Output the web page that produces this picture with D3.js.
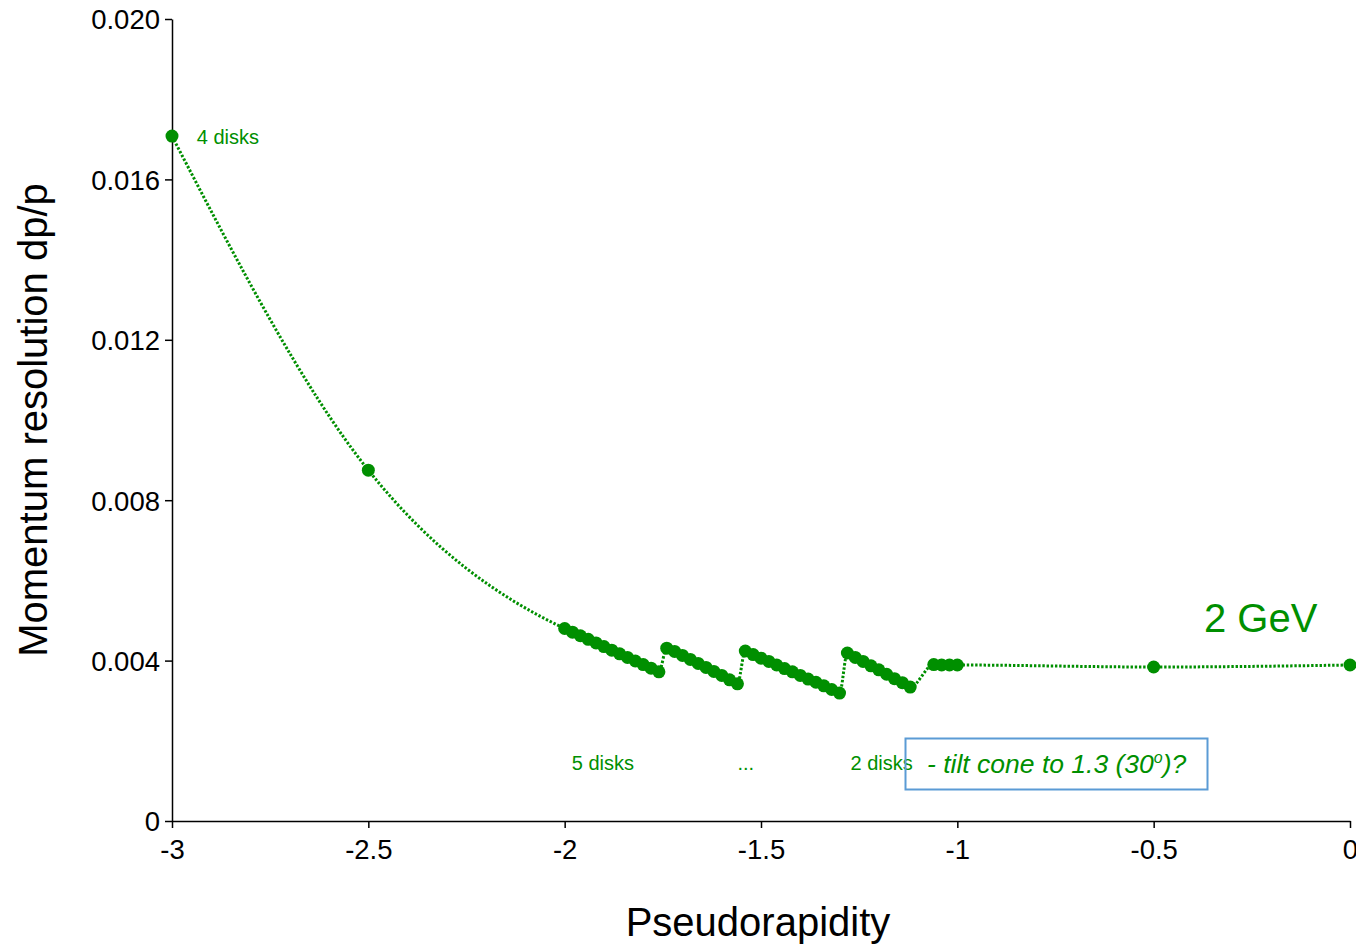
<!DOCTYPE html>
<html>
<head>
<meta charset="utf-8">
<script src="https://cdn.jsdelivr.net/npm/d3@7"></script>
<style>
  html, body { margin: 0; padding: 0; background: #fff; }
  svg { display: block; font-family: "Liberation Sans", Arial, Helvetica, sans-serif; }
</style>
</head>
<body>
<svg id="chart" width="1356" height="945"></svg>
<script>
// Momentum resolution vs pseudorapidity at 2 GeV
const eta = [
  -3.00, -2.50,
  -2.00, -1.98, -1.96, -1.94, -1.92, -1.90, -1.88, -1.86, -1.84, -1.82, -1.80, -1.78, -1.76,
  -1.74, -1.72, -1.70, -1.68, -1.66, -1.64, -1.62, -1.60, -1.58, -1.56,
  -1.54, -1.52, -1.50, -1.48, -1.46, -1.44, -1.42, -1.40, -1.38, -1.36, -1.34, -1.32, -1.30,
  -1.28, -1.26, -1.24, -1.22, -1.20, -1.18, -1.16, -1.14, -1.12,
  -1.06, -1.04, -1.02, -1.00,
  -0.50, 0.00
];
const dpp = [
  0.01708, 0.00875,
  0.00480, 0.00471, 0.00462, 0.00453, 0.00444, 0.00435, 0.00426, 0.00417, 0.00408, 0.00399, 0.00390, 0.00381, 0.00372,
  0.00431, 0.00423, 0.00413, 0.00403, 0.00393, 0.00383, 0.00373, 0.00363, 0.00352, 0.00342,
  0.00424, 0.00415, 0.00406, 0.00398, 0.00389, 0.00380, 0.00372, 0.00363, 0.00354, 0.00346, 0.00337, 0.00328, 0.00319,
  0.00419, 0.00408, 0.00398, 0.00387, 0.00377, 0.00366, 0.00355, 0.00345, 0.00334,
  0.00390, 0.00389, 0.00389, 0.00389,
  0.00384, 0.00389
];
const xTicks = [-3, -2.5, -2, -1.5, -1, -0.5, 0];
const xTickLabels = ["-3", "-2.5", "-2", "-1.5", "-1", "-0.5", "0"];
const yTicks = [0, 0.004, 0.008, 0.012, 0.016, 0.020];
const yTickLabels = ["0", "0.004", "0.008", "0.012", "0.016", "0.020"];
const annotations = [
  { text: "4 disks", x: -2.937, y: 0.01689 },
  { text: "5 disks", x: -1.982, y: 0.00127 },
  { text: "...", x: -1.560, y: 0.00127 },
  { text: "2 disks", x: -1.272, y: 0.00127 }
];

const green = "#008f00";
const svg = d3.select("#chart");
const margin = { left: 172, right: 6, top: 19, bottom: 124 };
const W = 1356, H = 945;

const x = d3.scaleLinear().domain([-3, 0]).range([margin.left, W - margin.right]);
const y = d3.scaleLinear().domain([0, 0.020]).range([H - margin.bottom, margin.top]);

// axes
const xAxis = svg.append("g")
  .attr("transform", `translate(0,${y(0)})`)
  .call(d3.axisBottom(x).tickValues(xTicks).tickSize(7).tickSizeOuter(0).tickPadding(5)
    .tickFormat((d, i) => xTickLabels[i]));
const yAxis = svg.append("g")
  .attr("transform", `translate(${x(-3)},0)`)
  .call(d3.axisLeft(y).tickValues(yTicks).tickSize(7).tickSizeOuter(0).tickPadding(5)
    .tickFormat((d, i) => yTickLabels[i]));

[xAxis, yAxis].forEach(g => {
  g.select(".domain").attr("stroke", "#000").attr("stroke-width", 1.5);
  g.selectAll(".tick line").attr("stroke", "#000").attr("stroke-width", 1.5);
  g.selectAll(".tick text").attr("fill", "#000").style("font-size", "27.5px")
    .style("font-family", '"Liberation Sans", Arial, sans-serif');
});
xAxis.selectAll(".tick text").attr("dy", "0.95em");
yAxis.selectAll(".tick text").attr("dy", "0.36em");

// axis titles
svg.append("text")
  .attr("x", 758).attr("y", 936)
  .attr("text-anchor", "middle")
  .style("font-size", "40px")
  .text("Pseudorapidity");
svg.append("text")
  .attr("transform", "translate(47,420) rotate(-90)")
  .attr("text-anchor", "middle")
  .style("font-size", "40px")
  .text("Momentum resolution dp/p");

// data
const pts = eta.map((e, i) => [e, dpp[i]]);

const line = d3.line()
  .x(d => x(d[0])).y(d => y(d[1]))
  .curve(d3.curveMonotoneX);

svg.append("path")
  .datum(pts)
  .attr("d", line)
  .attr("fill", "none")
  .attr("stroke", green)
  .attr("stroke-width", 3)
  .attr("stroke-dasharray", "2.4,1.8");

svg.append("g").selectAll("circle")
  .data(pts)
  .join("circle")
  .attr("cx", d => x(d[0]))
  .attr("cy", d => y(d[1]))
  .attr("r", 6.5)
  .attr("fill", green);

// labels
svg.append("g").selectAll("text")
  .data(annotations)
  .join("text")
  .attr("x", d => x(d.x))
  .attr("y", d => y(d.y))
  .attr("fill", green)
  .style("font-size", "20px")
  .text(d => d.text);

svg.append("text")
  .attr("x", 1204).attr("y", 632)
  .attr("fill", green)
  .style("font-size", "40px")
  .text("2 GeV");

// note box
svg.append("rect")
  .attr("x", 905.5).attr("y", 738.5)
  .attr("width", 302).attr("height", 51)
  .attr("fill", "none")
  .attr("stroke", "#5b9bd5")
  .attr("stroke-width", 2);

const note = svg.append("text")
  .attr("x", 927).attr("y", 773)
  .attr("fill", green)
  .style("font-size", "26.5px")
  .style("font-style", "italic");
note.append("tspan").text("- tilt cone to 1.3 (30");
note.append("tspan").attr("dy", -10).style("font-size", "16px").text("o");
note.append("tspan").attr("dy", 10).text(")?");
</script>
</body>
</html>
